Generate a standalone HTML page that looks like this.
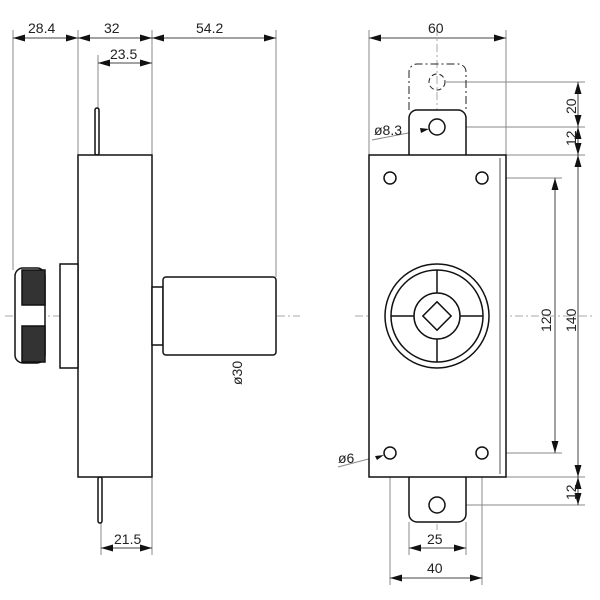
<!DOCTYPE html>
<html><head><style>body{margin:0;background:#fff}svg{display:block}text{font-family:"Liberation Sans",sans-serif;font-size:14px;fill:#222}</style></head><body>
<svg width="600" height="600" viewBox="0 0 600 600">
<defs><marker id="a" markerWidth="12" markerHeight="7" refX="12" refY="3.5" orient="auto-start-reverse" markerUnits="userSpaceOnUse"><path d="M0,0L12,3.5L0,7z" fill="#111"/></marker></defs>
<g stroke="#888" stroke-width="1" fill="none">
<line x1="13" y1="30" x2="13" y2="270"/><line x1="78" y1="30" x2="78" y2="155"/><line x1="152" y1="30" x2="152" y2="155"/><line x1="276" y1="30" x2="276" y2="277"/>
<line x1="98" y1="55" x2="98" y2="108"/><line x1="152" y1="477" x2="152" y2="555"/><line x1="101" y1="523" x2="101" y2="555"/>
<line x1="369" y1="30" x2="369" y2="155"/><line x1="506" y1="30" x2="506" y2="155"/>
<line x1="446" y1="82" x2="585" y2="82"/><line x1="446" y1="127" x2="585" y2="127"/><line x1="506" y1="155" x2="585" y2="155"/>
<line x1="488" y1="178" x2="562" y2="178"/><line x1="488" y1="453" x2="562" y2="453"/><line x1="506" y1="477" x2="585" y2="477"/><line x1="446" y1="505" x2="585" y2="505"/>
<line x1="390" y1="460" x2="390" y2="585"/><line x1="482" y1="460" x2="482" y2="585"/><line x1="409" y1="522" x2="409" y2="555"/><line x1="466" y1="522" x2="466" y2="555"/>
<line x1="372" y1="140" x2="429" y2="129"/><line x1="338" y1="467" x2="384" y2="455"/>
</g>
<g stroke="#444" stroke-width="1" fill="none" marker-start="url(#a)" marker-end="url(#a)">
<line x1="13" y1="38" x2="78" y2="38"/><line x1="78" y1="38" x2="152" y2="38"/><line x1="152" y1="38" x2="276" y2="38"/>
<line x1="98" y1="63" x2="152" y2="63"/><line x1="101" y1="548" x2="152" y2="548"/><line x1="226" y1="277" x2="226" y2="355"/>
<line x1="369" y1="38" x2="506" y2="38"/><line x1="578" y1="82" x2="578" y2="127"/><line x1="578" y1="127" x2="578" y2="155"/>
<line x1="578" y1="155" x2="578" y2="477"/><line x1="578" y1="477" x2="578" y2="505"/><line x1="555" y1="178" x2="555" y2="453"/>
<line x1="409" y1="548" x2="466" y2="548"/><line x1="390" y1="578" x2="482" y2="578"/>
</g>
<g stroke="#aaa" stroke-dasharray="8,3,2,3" fill="none"><line x1="5" y1="316" x2="300" y2="316"/><line x1="355" y1="316" x2="595" y2="316"/><line x1="437" y1="28" x2="437" y2="530"/></g>
<g stroke="#111" stroke-width="1.5" fill="#fff">
<rect x="95" y="108" width="4" height="47" rx="2"/><rect x="98" y="477" width="4" height="46" rx="2"/>
<rect x="78" y="155" width="74" height="322"/>
<rect x="60" y="264" width="18" height="104"/>
<rect x="152" y="287" width="11" height="58"/>
<rect x="163" y="277" width="113" height="78" rx="3"/>
<rect x="15" y="268" width="30" height="95" rx="8"/>
<rect x="22" y="270" width="23" height="35" fill="#333"/><rect x="22" y="326" width="23" height="36" fill="#333"/>
<path d="M409,155V118a8,8 0 0 1 8,-8h41a8,8 0 0 1 8,8V155"/>
<path d="M409,477V514a8,8 0 0 0 8,8h41a8,8 0 0 0 8,-8V477"/>
<rect x="369" y="155" width="137" height="322"/>
<circle cx="437" cy="127" r="8"/><circle cx="437" cy="505" r="8"/>
<circle cx="390" cy="178" r="6"/><circle cx="482" cy="178" r="6"/><circle cx="390" cy="453" r="6"/><circle cx="482" cy="453" r="6"/>
<circle cx="437" cy="316" r="52"/><circle cx="437" cy="316" r="46"/><circle cx="437" cy="316" r="23"/>
<rect x="427" y="306" width="20" height="20" transform="rotate(45 437 316)"/>
</g>
<line x1="500" y1="158" x2="500" y2="474" stroke="#555"/>
<path d="M429,129l-9,-1l1,5z M384,455l-9,1l2,4z" fill="#111"/>
<path d="M409,110V72a8,8 0 0 1 8,-8h41a8,8 0 0 1 8,8V110" stroke="#222" stroke-dasharray="8,3,2,3" fill="none"/>
<circle cx="437" cy="82" r="8" stroke="#222" stroke-dasharray="5,3" fill="none"/>
<g stroke="#111" stroke-width="1.5"><line x1="437" y1="270" x2="437" y2="293"/><line x1="437" y1="339" x2="437" y2="362"/><line x1="391" y1="316" x2="414" y2="316"/><line x1="460" y1="316" x2="483" y2="316"/></g>
<text x="28" y="33">28.4</text><text x="104" y="33">32</text><text x="196" y="33">54.2</text>
<text x="110" y="59">23.5</text><text x="114" y="544">21.5</text>
<text x="428" y="33">60</text><text x="374" y="135">ø8.3</text><text x="338" y="463">ø6</text>
<text x="427" y="544">25</text><text x="427" y="573">40</text>
<text transform="translate(242,385) rotate(-90)">ø30</text>
<text transform="translate(576,114) rotate(-90)">20</text><text transform="translate(576,146) rotate(-90)">12</text>
<text transform="translate(551,332) rotate(-90)">120</text><text transform="translate(576,332) rotate(-90)">140</text>
<text transform="translate(576,500) rotate(-90)">12</text>
</svg></body></html>
